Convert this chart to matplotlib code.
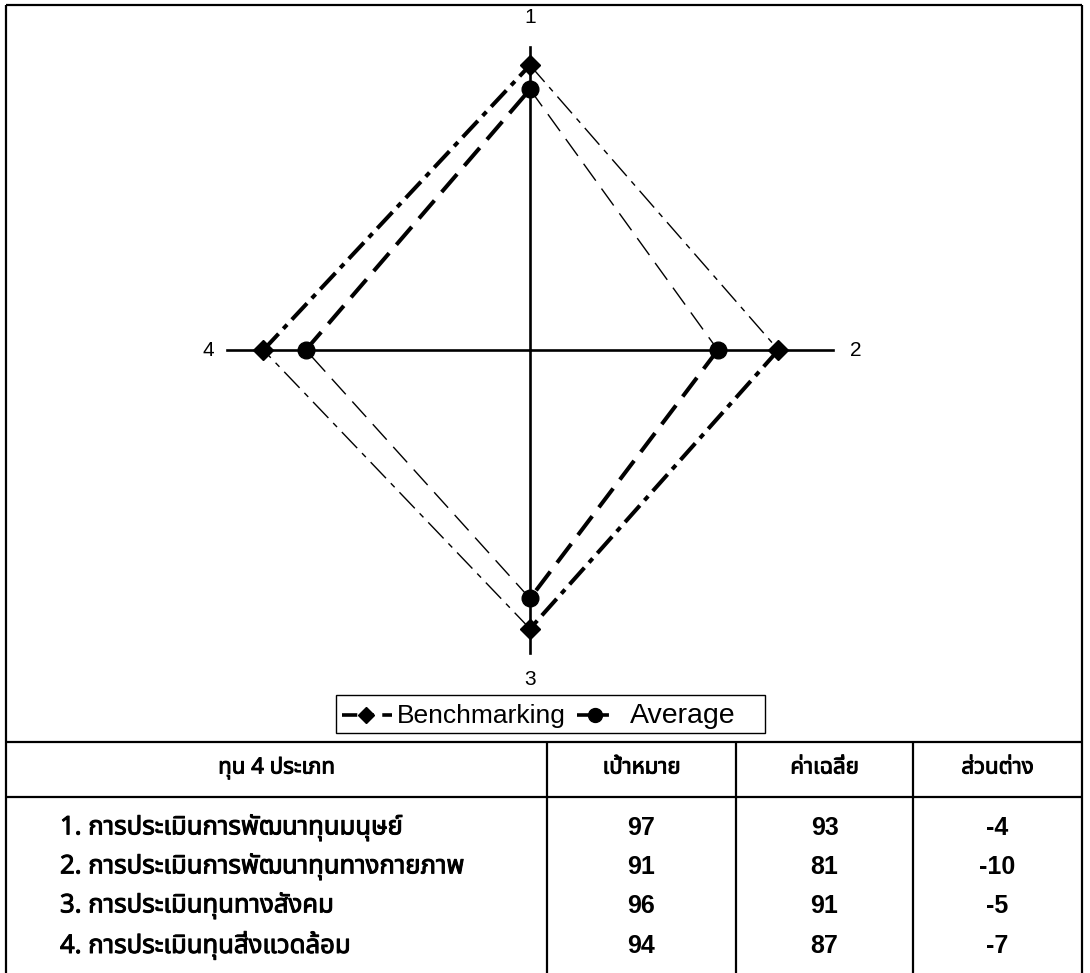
import numpy as np
import matplotlib
matplotlib.use("Agg")
import matplotlib.pyplot as plt
from matplotlib import font_manager, patheffects
from matplotlib.ft2font import FT2Font
from matplotlib.lines import Line2D
from matplotlib.patches import Rectangle

# ---- data ----
axis_labels = ["1", "2", "3", "4"]
benchmark = [97, 91, 96, 94]
average = [93, 81, 91, 87]
table_header = ["ทุน 4 ประเภท", "เป้าหมาย", "ค่าเฉลี่ย", "ส่วนต่าง"]
categories = ["1. การประเมินการพัฒนาทุนมนุษย์",
              "2. การประเมินการพัฒนาทุนทางกายภาพ",
              "3. การประเมินทุนทางสังคม",
              "4. การประเมินทุนสิ่งแวดล้อม"]
series_names = ["Benchmarking", "Average"]
r_min, r_max = 50, 100

plt.rcParams["lines.scale_dashes"] = False


def installed(name):
    return any(f.name == name for f in font_manager.fontManager.ttflist)


def family_with(ch, preferred):
    for name in preferred:
        if installed(name):
            return name
    for fe in font_manager.fontManager.ttflist:
        try:
            if FT2Font(fe.fname).get_char_index(ord(ch)):
                return fe.name
        except Exception:
            continue
    return "DejaVu Sans"


thai_font = family_with("ก", ["Tahoma", "Noto Sans Thai", "Noto Sans Thai UI", "Loma",
                              "Garuda", "Waree", "Umpush", "Sawasdee", "Norasi"])
latin = "Liberation Sans" if installed("Liberation Sans") else "DejaVu Sans"
narrow = "Liberation Sans Narrow" if installed("Liberation Sans Narrow") else latin
thai_fam = [thai_font, latin, "DejaVu Sans"]
heavy_fx = [patheffects.withStroke(linewidth=0.7, foreground="black")]

W, H = 1090, 973
fig = plt.figure(figsize=(W / 100, H / 100), dpi=100)

# ---- radar (polar) area ----
cx, cy, rad = 530, 350, 303
ax = fig.add_axes([(cx - rad) / W, (H - cy - rad) / H, 2 * rad / W, 2 * rad / H],
                  projection="polar")
ax.set_theta_zero_location("N")
ax.set_theta_direction(-1)
ax.set_ylim(r_min, r_max)
ax.axis("off")

n = len(axis_labels)
theta = np.arange(n) * 2 * np.pi / n

for t in theta:
    ax.plot([t, t], [r_min, r_max], color="black", lw=1.9, zorder=2, clip_on=False)

label_r = [104.9, 103.8, 104.4, 103.1]
for t, lab, lr in zip(theta, axis_labels, label_r):
    ax.text(t, lr, lab, ha="center", va="center", fontsize=15,
            family=latin, clip_on=False)

bench_dash_thick = (0, (16, 5, 4, 5))
bench_dash_thin = (0, (16, 5, 4, 5))
avg_dash_thick = (0, (17, 8))
avg_dash_thin = (0, (15, 7))

for i in range(n):
    j = (i + 1) % n
    # edges running "/" render heavier than edges running "\"
    heavy = i in (1, 3)
    ax.plot([theta[i], theta[j]], [benchmark[i], benchmark[j]], color="black",
            lw=2.9 if heavy else 1.0,
            linestyle=bench_dash_thick if heavy else bench_dash_thin,
            dash_capstyle="butt", zorder=3, clip_on=False)
    ax.plot([theta[i], theta[j]], [average[i], average[j]], color="black",
            lw=2.9 if heavy else 1.0,
            linestyle=avg_dash_thick if heavy else avg_dash_thin,
            dash_capstyle="butt", zorder=3, clip_on=False)

ax.plot(theta, benchmark, linestyle="none", marker="D", ms=10, color="black",
        zorder=4, clip_on=False)
ax.plot(theta, average, linestyle="none", marker="o", ms=12, color="black",
        zorder=4, clip_on=False)

# ---- frame, legend and table drawn in pixel space ----
ov = fig.add_axes([0, 0, 1, 1])
ov.set_xlim(0, W)
ov.set_ylim(H, 0)
ov.axis("off")
ov.patch.set_visible(False)

kw = dict(color="black", lw=1.6, solid_capstyle="butt")
L, R, T = 6, 1082, 5
ov.plot([L, L], [T, H], **kw)
ov.plot([R, R], [T, H], **kw)
ov.plot([L, R], [T, T], **kw)
tab_top, head_bot = 742, 797
ov.plot([L, R], [tab_top, tab_top], **kw)
ov.plot([L, R], [head_bot, head_bot], **kw)
col_x = [547, 736, 913]
for x in col_x:
    ov.plot([x, x], [tab_top, H], **kw)

# legend box
ov.add_patch(Rectangle((336, 695), 765 - 336, 733 - 695, fill=False,
                       edgecolor="black", lw=1.0))
ov.add_line(Line2D([342, 392], [715, 715], color="black", lw=2.6,
                   linestyle=(0, (11, 6, 6, 6)), dash_capstyle="butt"))
ov.add_line(Line2D([366], [715], marker="D", ms=8, color="black", linestyle="none"))
ov.text(397, 716, series_names[0], ha="left", va="center", fontsize=19, family=narrow)
ov.add_line(Line2D([577, 613], [715, 715], color="black", lw=2.6,
                   linestyle=(0, (10, 3)), dash_capstyle="butt"))
ov.add_line(Line2D([595], [715], marker="o", ms=10, color="black", linestyle="none"))
ov.text(630, 716, series_names[1], ha="left", va="center", fontsize=20.5, family=latin)

# table text
head_y = 768
col_centers = [(L + col_x[0]) / 2, (col_x[0] + col_x[1]) / 2,
               (col_x[1] + col_x[2]) / 2, (col_x[2] + R) / 2]
for xc, h in zip(col_centers, table_header):
    ov.text(xc, head_y, h, ha="center", va="center", fontsize=16,
            fontweight="bold", family=thai_fam, path_effects=heavy_fx)

row_y = [828, 867, 906, 946]
for y, cat, b, a in zip(row_y, categories, benchmark, average):
    ov.text(60, y, cat, ha="left", va="center", fontsize=18.5, fontweight="bold",
            family=thai_fam, path_effects=heavy_fx)
    for xc, v in zip(col_centers[1:], [b, a, a - b]):
        ov.text(xc, y, str(v), ha="center", va="center", fontsize=18,
                fontweight="bold", family=narrow)

fig.savefig("out.png", dpi=100)
